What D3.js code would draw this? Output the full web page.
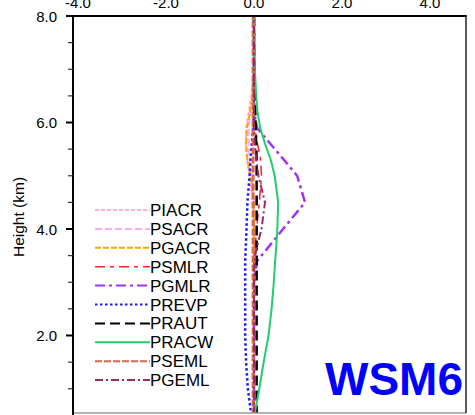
<!DOCTYPE html>
<html><head><meta charset="utf-8">
<script src="https://cdn.jsdelivr.net/npm/d3@7"></script>
<style>body{margin:0;background:#fff}svg{display:block}text{font-family:"Liberation Sans",Arial,sans-serif}</style>
</head><body><svg id="c" width="475" height="415"></svg>
<script>
const heights = [0.5,1.0,1.5,2.0,2.5,3.0,3.4,3.6,4.0,4.5,5.0,5.3,5.6,5.9,6.2,6.5,7.0,7.5,8.0];
const PIACR = [0,0,0,0,0,0,0,0,0,-0.03,-0.10,-0.16,-0.19,-0.18,-0.12,-0.06,-0.01,0,0];
const PSACR = [0,0,0,0,0,0,0,0,0,0,-0.05,-0.10,-0.12,-0.12,-0.08,-0.04,0,0,0];
const PGACR = [0,0,0,0,0,0,0,0,0,0,-0.08,-0.15,-0.18,-0.16,-0.09,-0.03,0,0,0];
const PSMLR = [0,0,0,0,0,0,0,0.02,0.06,0.12,0.17,0.15,0.08,0.02,0,0,0,0,0];
const PGMLR = [0,0,0,0,0,0,0.07,0.27,0.66,1.16,0.98,0.68,0.37,0.07,0,0,0,0,0];
const PREVP = [-0.06,-0.14,-0.18,-0.2,-0.2,-0.2,-0.2,-0.19,-0.17,-0.15,-0.10,-0.08,-0.05,-0.02,0,0,0,0,0];
const PRAUT = [0.06,0.06,0.06,0.06,0.06,0.06,0.06,0.06,0.06,0.06,0.06,0.06,0.05,0.04,0.03,0.02,0.01,0,0];
const PRACW = [0.01,0.12,0.22,0.33,0.40,0.45,0.48,0.50,0.53,0.55,0.47,0.38,0.25,0.14,0.08,0.05,0.02,0.01,0];
const PSEML = [-0.02,-0.02,-0.02,-0.02,-0.02,-0.02,-0.02,-0.02,-0.02,-0.02,-0.02,-0.02,-0.02,-0.02,-0.02,-0.02,-0.02,-0.02,-0.02];
const PGEML = [0,0,0,0,0,0,0.01,0.05,0.17,0.25,0.10,0.05,0.02,0,0,0,0,0,0];
const seriesNames = ["PIACR","PSACR","PGACR","PSMLR","PGMLR","PREVP","PRAUT","PRACW","PSEML","PGEML"];
const seriesValues = [PIACR,PSACR,PGACR,PSMLR,PGMLR,PREVP,PRAUT,PRACW,PSEML,PGEML];
const xTicks = [-4,-2,0,2,4];
const yMajor = [2,4,6,8];
const title = "WSM6";
const yLabel = "Height (km)";

const styles = {
  PIACR:{c:"#ffb3c6",d:"4,2",w:2},
  PSACR:{c:"#ffaaf5",d:"7,3",w:2},
  PGACR:{c:"#ffa500",d:"6,2",w:2},
  PSMLR:{c:"#ff2020",d:"10,5,4,5",w:1.5},
  PGMLR:{c:"#a033f0",d:"10,4,3,4",w:2.5},
  PREVP:{c:"#1a1aff",d:"2.5,2.5",w:2.5},
  PRAUT:{c:"#000000",d:"10,5",w:2.5},
  PRACW:{c:"#1fd06a",d:null,w:2},
  PSEML:{c:"#d9664e",d:"7,2",w:3},
  PGEML:{c:"#9a2a64",d:"8,3,2,3",w:2}
};

const L=73,R=466,T=16,B=413;
const x = d3.scaleLinear().domain([(L-254)/44,(R-254)/44]).range([L,R]);
const y = d3.scaleLinear().domain([0,8]).range([442,16]);
const svg = d3.select("#c");
svg.append("defs").append("clipPath").attr("id","clip").append("rect").attr("x",L).attr("y",T).attr("width",R-L).attr("height",B-T);

const g = svg.append("g").attr("clip-path","url(#clip)");
const line = d3.line().x(d=>x(d[1])).y(d=>y(d[0]));
seriesNames.forEach((n,i)=>{
  const s=styles[n];
  g.append("path").datum(heights.map((h,j)=>[h,seriesValues[i][j]]))
   .attr("d",line).attr("fill","none").attr("stroke",s.c).attr("stroke-width",s.w)
   .attr("stroke-dasharray",s.d);
});

// frame
svg.append("line").attr("x1",L).attr("x2",R).attr("y1",B).attr("y2",B).attr("stroke","#999").attr("stroke-width",1.5);
svg.append("line").attr("x1",R).attr("x2",R).attr("y1",T).attr("y2",B).attr("stroke","#222").attr("stroke-width",1.5);
svg.append("line").attr("x1",L-1).attr("x2",R+0.75).attr("y1",T).attr("y2",T).attr("stroke","#000").attr("stroke-width",2);
svg.append("line").attr("x1",L).attr("x2",L).attr("y1",T).attr("y2",B+2).attr("stroke","#000").attr("stroke-width",2);

// left ticks
const minor = d3.range(1,8.01,0.5).filter(v=>!yMajor.includes(v));
svg.selectAll(".mj").data(yMajor).join("line").attr("x1",L-7).attr("x2",L).attr("y1",d=>y(d)).attr("y2",d=>y(d)).attr("stroke","#000").attr("stroke-width",2);
svg.selectAll(".mn").data(minor).join("line").attr("x1",L-5).attr("x2",L).attr("y1",d=>y(d)).attr("y2",d=>y(d)).attr("stroke","#333").attr("stroke-width",1.2);
svg.selectAll(".yl").data(yMajor).join("text").attr("x",57).attr("y",d=>y(d)+5.5).attr("text-anchor","end").attr("font-size",15).text(d=>d.toFixed(1));
svg.selectAll(".xl").data(xTicks).join("text").attr("x",d=>x(d)).attr("y",8).attr("text-anchor","middle").attr("font-size",15).text(d=>d.toFixed(1));
svg.append("text").attr("transform","translate(24,217) rotate(-90)").attr("text-anchor","middle").attr("font-size",15.5).text(yLabel);

// legend
seriesNames.forEach((n,i)=>{
  const s=styles[n], yy=210+i*18.9;
  svg.append("line").attr("x1",95).attr("x2",150).attr("y1",yy).attr("y2",yy).attr("stroke",s.c).attr("stroke-width",Math.min(s.w,2)).attr("stroke-dasharray",s.d);
  svg.append("text").attr("x",150).attr("y",yy+6).attr("font-size",17).attr("fill","#000").text(n);
});

svg.append("text").attr("x",463).attr("y",395).attr("text-anchor","end").attr("font-size",46).attr("font-weight","bold").attr("fill","#0000ff").text(title);
</script></body></html>
